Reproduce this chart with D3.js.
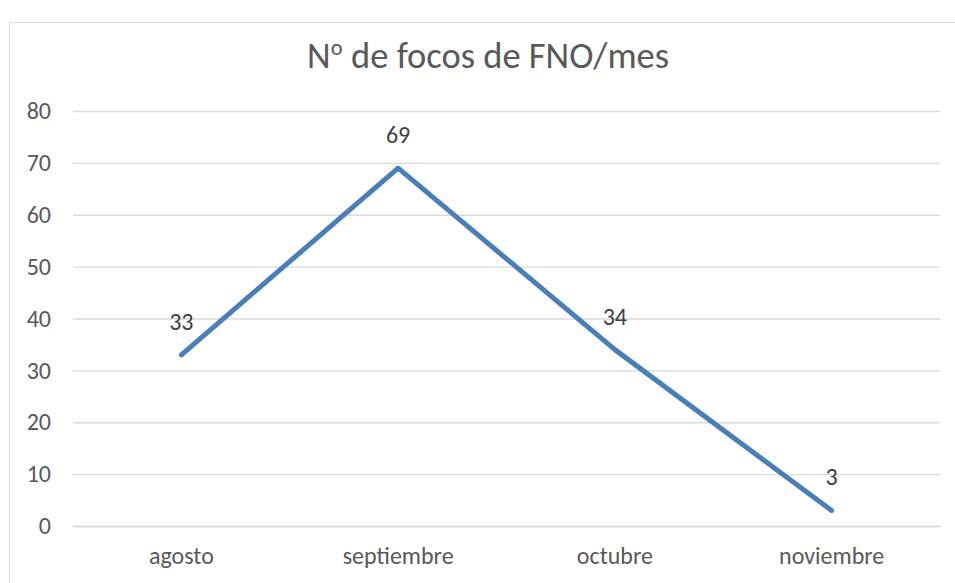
<!DOCTYPE html>
<html>
<head>
<meta charset="utf-8">
<script src="https://cdn.jsdelivr.net/npm/d3@7"></script>
<style>
  body { margin: 0; background: #fff; }
  text { font-family: Carlito, "Open Sans", sans-serif; }
</style>
</head>
<body>
<div id="visArea"></div>
<script>
// data
var months = ["agosto", "septiembre", "octubre", "noviembre"]
var focos = [33, 69, 34, 3]
var yTicks = [0, 10, 20, 30, 40, 50, 60, 70, 80]
var titleParts = ["N", "º", " de focos de FNO/mes"]

// display constants
var viewWidth = 955
var viewHeight = 583
var plot = { left: 73, right: 940, top: 111, bottom: 526 }
var labelSize = "24px"

var svg = d3.select('#visArea')
  .append("svg")
  .attr("width", viewWidth)
  .attr("height", viewHeight)

// outer chart border
svg.append("rect")
  .attr("x", 9.5).attr("y", 22.5)
  .attr("width", viewWidth).attr("height", viewHeight)
  .attr("fill", "none")
  .attr("stroke", "#d9d9d9")
  .attr("stroke-width", 1)

var xScale = d3.scaleBand()
  .domain(months)
  .range([plot.left, plot.right])

var yScale = d3.scaleLinear()
  .domain([0, 80])
  .range([plot.bottom, plot.top])

// gridlines
var yAxis = d3.axisLeft(yScale)
  .tickValues(yTicks)
  .tickSize(-(plot.right - plot.left))
  .tickPadding(22)

svg.append('g')
  .attr("class", "y axis")
  .attr("transform", "translate(" + plot.left + ",0)")
  .call(yAxis)
  .call(g => g.select(".domain").remove())
  .call(g => g.selectAll(".tick line").attr("stroke", "#d9d9d9").attr("stroke-width", 1.3))
  .call(g => g.selectAll(".tick text")
    .attr("fill", "#595959")
    .style("font-size", labelSize))

var xAxis = d3.axisBottom(xScale)
  .tickSize(0)
  .tickPadding(21)

svg.append('g')
  .attr("class", "x axis")
  .attr("transform", "translate(0," + plot.bottom + ")")
  .call(xAxis)
  .call(g => g.select(".domain").attr("stroke", "#d9d9d9").attr("stroke-width", 1.3))
  .call(g => g.selectAll(".tick text")
    .attr("fill", "#595959")
    .style("font-size", labelSize))

var lineGenerator = d3.line()
  .x((d, i) => xScale(months[i]) + xScale.bandwidth() / 2)
  .y(d => yScale(d))

svg.append("path")
  .datum(focos)
  .attr("d", lineGenerator)
  .attr("fill", "none")
  .attr("stroke", "#4a7ebb")
  .attr("stroke-width", 5)
  .attr("stroke-linecap", "round")
  .attr("stroke-linejoin", "round")

// data labels
svg.selectAll(".label")
  .data(focos)
  .enter()
  .append("text")
  .attr("class", "label")
  .attr("x", (d, i) => xScale(months[i]) + xScale.bandwidth() / 2)
  .attr("y", d => yScale(d) - 25)
  .attr("text-anchor", "middle")
  .attr("fill", "#404040")
  .style("font-size", labelSize)
  .text(d => d)

// title, the ordinal sign taken from a font that draws its underline
var title = svg.append("text")
  .attr("x", 488)
  .attr("y", 68)
  .attr("text-anchor", "middle")
  .attr("fill", "#595959")
  .style("font-size", "36.5px")
title.append("tspan").text(titleParts[0])
title.append("tspan").style("font-family", "'Open Sans', sans-serif").style("font-size", "33px").text(titleParts[1])
title.append("tspan").text(titleParts[2])
</script>
</body>
</html>
